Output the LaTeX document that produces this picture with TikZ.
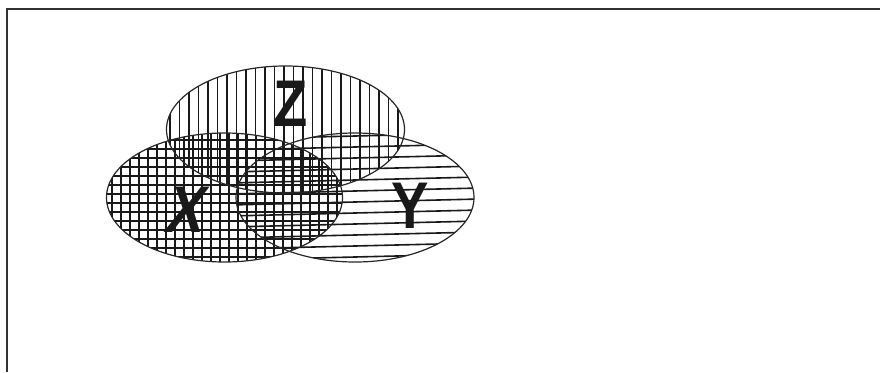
\documentclass[tikz,border=0pt]{standalone}
\usepackage{fontspec}
\setmainfont{Liberation Sans}
\begin{document}
\begin{tikzpicture}[x=1pt,y=-1pt,
  hatch/.style={line width=1.6pt,black!90},
  outline/.style={line width=1.2pt,black!85},
  letter/.style={font=\fontsize{66}{66}\selectfont\bfseries, inner sep=0pt, text=black!90, xscale=0.85}]
\useasboundingbox (0,0) rectangle (880,372);
\draw[line width=2pt,black!80] (7,372) -- (7,9) -- (880,9);
% Z: vertical hatching
\begin{scope}
  \clip (285.5,129.5) ellipse [x radius=119pt, y radius=63.5pt];
  \foreach \x in {170,179.5,...,410} \draw[hatch] (\x,60) -- (\x,200);
\end{scope}
% X: grid hatching
\begin{scope}
  \clip (224.5,197.5) ellipse [x radius=118pt, y radius=64.5pt];
  \foreach \x in {112,121,...,345} \draw[hatch] (\x,128) -- (\x,266);
  \foreach \y in {140,149,...,262} \draw[hatch] (100,\y) -- (350,\y);
\end{scope}
% Y: horizontal hatching, slightly tilted
\begin{scope}
  \clip (355,197.5) ellipse [x radius=119pt, y radius=64.5pt];
  \foreach \y in {136,147,...,275} \draw[hatch] (230,\y+3) -- (480,\y-3);
\end{scope}
\draw[outline] (285.5,129.5) ellipse [x radius=119pt, y radius=63.5pt];
\draw[outline] (224.5,197.5) ellipse [x radius=118pt, y radius=64.5pt];
\draw[outline] (355,197.5) ellipse [x radius=119pt, y radius=64.5pt];
\node[letter] (z) at (291,104) {Z};
\node[letter, xslant=0.28] (xl) at (188,210) {X};
\node[letter] (yl) at (410,206) {Y};
\end{tikzpicture}
\end{document}
